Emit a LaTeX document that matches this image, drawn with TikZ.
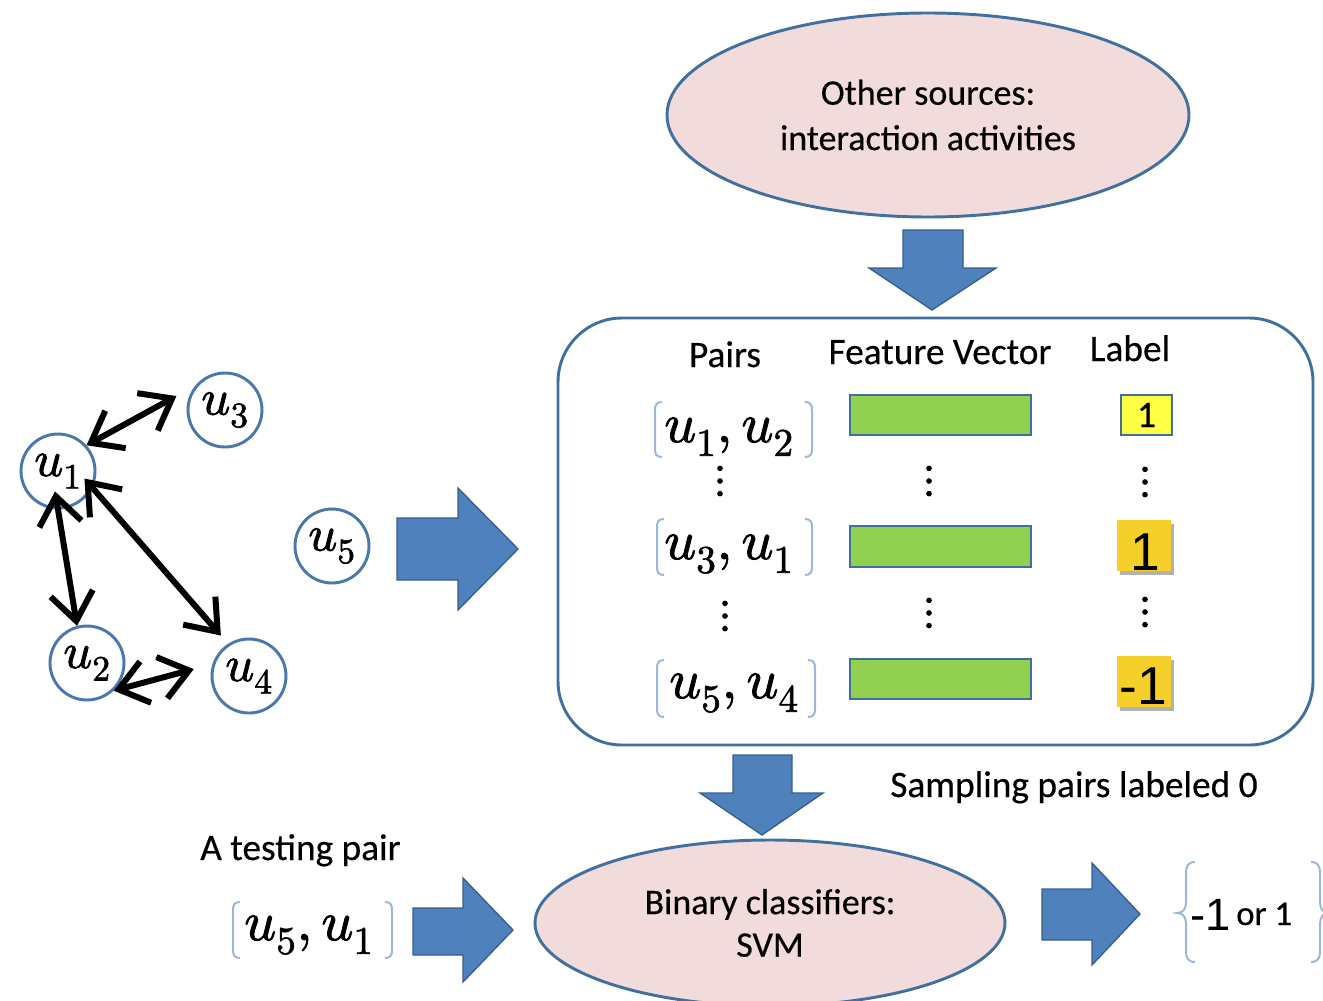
\documentclass[tikz,border=0pt]{standalone}
\usepackage{fontspec}
\usepackage{unicode-math}
\setmainfont{Carlito}[FakeBold=0.4]
\setmathfont{Latin Modern Math}[FakeBold=1.6]
\newfontfamily\arialf{Liberation Sans}
\usetikzlibrary{arrows.meta,shapes.geometric,shadows}
\definecolor{pinkfill}{HTML}{F2DCDB}
\definecolor{shapeline}{HTML}{41709F}
\definecolor{arrowfill}{HTML}{4F81BD}
\definecolor{arrowdraw}{HTML}{385D8A}
\definecolor{barfill}{HTML}{92D050}
\definecolor{yellowone}{HTML}{FFFF45}
\definecolor{goldfill}{HTML}{F5D02A}
\definecolor{brkc}{HTML}{9BB7D9}
\definecolor{circline}{HTML}{4A77AC}
\newcommand\pairbrackets[4]{%
  \draw[brkline] (#1+7,#3) .. controls (#1+1,#3) and (#1,#3+3) .. (#1,#3+9) -- (#1,#4-9) .. controls (#1,#4-3) and (#1+1,#4) .. (#1+7,#4);
  \draw[brkline] (#2-7,#3) .. controls (#2-1,#3) and (#2,#3+3) .. (#2,#3+9) -- (#2,#4-9) .. controls (#2,#4-3) and (#2-1,#4) .. (#2-7,#4);}
\tikzset{
  circ/.style={circle, draw=circline, line width=2.2pt, minimum size=55.5pt, inner sep=0pt, font=\fontsize{38}{40}\selectfont},
  dbl/.style={line width=4.5pt, {Straight Barb[length=21pt,width=32pt]}-{Straight Barb[length=21pt,width=32pt]}},
  blk/.style={fill=arrowfill, draw=arrowdraw, line width=1pt, line join=miter},
  bar/.style={rectangle, fill=barfill, draw=shapeline, line width=2.2pt, minimum width=135.75pt, minimum height=30pt, inner sep=0pt},
  brkline/.style={brkc, line width=1.5pt},
  txt/.style={font=\fontsize{28}{34}\selectfont, inner sep=0pt},
  pairtxt/.style={font=\fontsize{42}{48}\selectfont, inner sep=0pt, anchor=base},
  dotstxt/.style={font=\fontsize{34}{36}\selectfont, inner sep=0pt},
  goldbox/.style={rectangle, fill=goldfill, minimum width=40.5pt, minimum height=38.25pt, inner sep=0pt,
     drop shadow={shadow xshift=2pt, shadow yshift=-3pt, fill=black, opacity=0.3}},
  bigdigit/.style={font=\arialf\fontsize{40}{44}\selectfont, inner sep=0pt},
  ell/.style={ellipse, fill=pinkfill, draw=shapeline, line width=2.2pt, inner sep=0pt, align=center}
}
\begin{document}
\begin{tikzpicture}[x=0.75pt,y=-0.75pt]
\useasboundingbox (0,0) rectangle (1323,1000);
% top ellipse
\node[ell, minimum width=391.5pt, minimum height=153pt, font=\fontsize{27}{34}\selectfont] (src) at (928,115) {Other sources:\\interaction activities};
% arrow down from sources
\draw[blk] (903,230) -- (963,230) -- (963,268) -- (996,268) -- (932,310) -- (869,268) -- (903,268) -- cycle;
% table box
\node[rectangle, draw=shapeline, line width=2.2pt, rounded corners=48pt, minimum width=566.25pt, minimum height=320.25pt, inner sep=0pt] (tbl) at (935.5,531.5) {};
% headers
\node[txt, anchor=base] (hpairs) at (725,367) {Pairs};
\node[txt, anchor=base] (hfv) at (940,364) {Feature Vector};
\node[txt, anchor=base] (hlab) at (1130,361) {Label};
% pairs
\pairbrackets{655}{812}{402}{457}
\node[pairtxt] (p1) at (729,442) {$u_1, u_2$};
\pairbrackets{657}{812}{519}{575}
\node[pairtxt] (p2) at (729,559) {$u_3, u_1$};
\pairbrackets{657}{815}{660}{717}
\node[pairtxt] (p3) at (734,698) {$u_5, u_4$};
% bars
\node[bar] (fv1) at (940.5,415) {};
\node[bar, minimum height=30.75pt] (fv2) at (940.5,546.5) {};
\node[bar] (fv3) at (940.5,679) {};
% labels
\node[rectangle, fill=yellowone, draw=shapeline, line width=2.2pt, minimum width=38.25pt, minimum height=30pt, inner sep=0pt, font=\fontsize{28}{30}\selectfont] (l1) at (1146.5,415) {1};
\node[goldbox] (l2) at (1144,545.5) {};
\node[bigdigit, anchor=base] (l2t) at (1145,570) {1};
\node[goldbox] (l3) at (1144,681.5) {};
\node[bigdigit, anchor=base] (l3t) at (1143,704) {-1};
% dots
\node[dotstxt] (d1a) at (720,481) {$\vdots$};
\node[dotstxt] (d2a) at (929,481) {$\vdots$};
\node[dotstxt] (d3a) at (1145,482) {$\vdots$};
\node[dotstxt] (d1b) at (725,616) {$\vdots$};
\node[dotstxt] (d2b) at (929,613) {$\vdots$};
\node[dotstxt] (d3b) at (1145,612) {$\vdots$};
% graph
\node[circ] (u3) at (225,410) {$u_3$};
\node[circ] (u1) at (58,471) {$u_1$};
\node[circ] (u5) at (332,546) {$u_5$};
\node[circ] (u2) at (87,663) {$u_2$};
\node[circ] (u4) at (249,676) {$u_4$};
\draw[dbl, shorten >=16pt] (u1.42) -- (u3.141);
\draw[dbl, shorten <=-13.7pt] (u1.-90) -- (u2.105);
\draw[dbl, shorten <=-9.3pt, shorten >=8.2pt] (u1.-26) -- (u4.123);
\draw[dbl, shorten >=14.5pt] (u2.-46) -- (u4.162);
% arrow u5 -> table
\draw[blk] (397,518) -- (458,518) -- (458,488) -- (518,549) -- (458,610) -- (458,580) -- (397,580) -- cycle;
% arrow table -> svm
\draw[blk] (733,755) -- (792,755) -- (792,793) -- (823,793) -- (762,835) -- (700,793) -- (733,793) -- cycle;
\node[txt, anchor=base west] (samp) at (890,797) {Sampling pairs labeled 0};
% bottom row
\node[txt, anchor=base west] (testlbl) at (200,860) {A testing pair};
\pairbrackets{233}{392}{902}{958}
\node[pairtxt] (pt) at (309,940) {$u_5, u_1$};
\draw[blk] (413,908) -- (463,908) -- (463,878) -- (513,930) -- (463,982) -- (463,955) -- (413,955) -- cycle;
\node[ell, minimum width=352.5pt, minimum height=124.5pt, font=\fontsize{27}{32}\selectfont] (svm) at (770,923) {Binary classifiers:\\SVM};
\draw[blk] (1042,889) -- (1092,889) -- (1092,863) -- (1140,914) -- (1092,965) -- (1092,940) -- (1042,940) -- cycle;
% output
\draw[brkline] (1195,862) .. controls (1188,862) and (1186,866) .. (1186,874) -- (1186,902) .. controls (1186,909) and (1183,913) .. (1177,913) .. controls (1183,913) and (1186,917) .. (1186,924) -- (1186,951) .. controls (1186,958) and (1188,962) .. (1195,962);
\draw[brkline] (1311,862) .. controls (1318,862) and (1320,866) .. (1320,874) -- (1320,902) .. controls (1320,909) and (1323,913) .. (1329,913) .. controls (1323,913) and (1320,917) .. (1320,924) -- (1320,951) .. controls (1320,958) and (1318,962) .. (1311,962);
\node[font=\arialf\fontsize{34}{38}\selectfont, inner sep=0pt, anchor=base west] (outm) at (1190,930) {-1};
\node[font=\fontsize{26}{30}\selectfont, inner sep=0pt, anchor=base west] (outor) at (1236,925) {or 1};
\end{tikzpicture}
\end{document}
